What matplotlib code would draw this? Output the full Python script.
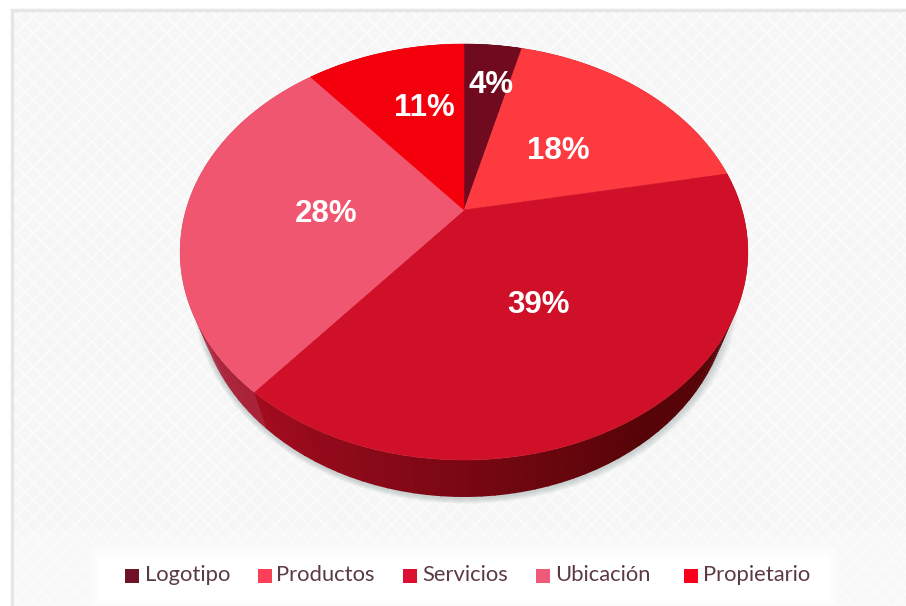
"""Pie chart with a tilted 3D look, drawn from the share values."""
import matplotlib
matplotlib.use("Agg")
import matplotlib.pyplot as plt
import numpy as np
from matplotlib.colors import to_rgb
from matplotlib.patches import Rectangle

categories = ["Logotipo", "Productos", "Servicios", "Ubicación", "Propietario"]
shares = [4, 18, 39, 28, 11]
share_labels = ["4%", "18%", "39%", "28%", "11%"]

top_colors = ["#700a1e", "#fc3a40", "#d01028", "#f0566f", "#f4000c"]
rim_start = ["#4a0410", "#8a1018", "#a30c20", "#a82238", "#a00008"]
rim_end = ["#4a0410", "#8a1018", "#560408", "#bd3048", "#a00008"]
legend_colors = ["#6f1226", "#fb3f58", "#dc0f32", "#ef5a78", "#f8001c"]

label_pos = [(491, 85), (558, 151), (539, 305), (326, 214), (424, 108)]
legend_square_x = [125, 258, 403, 536, 684]
legend_text_x = [145, 276, 422, 555, 703]

APEX = (464, 210)
K = 0.202  # perspective of the tilted disc
A = 278
B = 199.5
RIM_SCALE = 0.94
RIM_DROP = 37


def project(theta, r=1.0, scale=1.0, drop=0.0):
    """Map a point of the unit disc (clockwise from 12 o'clock) to pixels."""
    u = r * np.sin(theta)
    v = r * np.cos(theta)
    den = 1 + K * v
    return APEX[0] + scale * A * u / den, APEX[1] - B * v / den + drop


def mix(c1, c2, t):
    a, b = np.array(to_rgb(c1)), np.array(to_rgb(c2))
    return tuple(a + (b - a) * t)


fig = plt.figure(figsize=(9.06, 6.06), dpi=100, facecolor="white")
ax = fig.add_axes([0, 0, 1, 1])
ax.set_xlim(0, 906)
ax.set_ylim(606, 0)
ax.axis("off")

# Panel with its faint diagonal weave
plt.rcParams["hatch.linewidth"] = 1.4
ax.add_patch(Rectangle((12, 10), 900, 600, facecolor="#f6f6f6", edgecolor="#e6e6e6",
                       linewidth=2.5, zorder=0))
ax.add_patch(Rectangle((14, 12), 900, 600, facecolor="none", edgecolor="#fbfbfb",
                       linewidth=0, hatch="xx", zorder=0.1))
# The weave fades out towards the legend band
for y in range(530, 552, 3):
    ax.add_patch(Rectangle((14, y), 892, 606 - y, facecolor="#fbfbfb", edgecolor="none",
                           alpha=0.25, zorder=0.2))
for pad in range(8, 0, -2):
    ax.add_patch(Rectangle((97 - pad, 555 - pad), 733 + 2 * pad, 46 + 2 * pad,
                           facecolor="#ffffff", edgecolor="none", alpha=0.3, zorder=0.3))
ax.add_patch(Rectangle((97, 555), 733, 46, facecolor="#ffffff", edgecolor="none", zorder=0.3))

# Soft shadow under the disc
full = np.linspace(0, 2 * np.pi, 361)
for grow in range(1, 9):
    sx, sy = project(full, scale=RIM_SCALE, drop=RIM_DROP)
    cx, cy = np.mean([sx.min(), sx.max()]), np.mean([sy.min(), sy.max()])
    f = 1 + grow * 0.0032
    ax.fill(cx + (sx - cx) * f + grow * 0.2, cy + (sy - cy) * f + 1.5, color="#7f9090",
            alpha=0.05, linewidth=0, zorder=1)

# Rim, then the top of every slice
edges = np.concatenate([[0], np.cumsum(shares)]) / np.sum(shares) * 2 * np.pi
for i in range(len(shares)):
    steps = np.linspace(edges[i], edges[i + 1], 60)
    for j in range(len(steps) - 1):
        t = np.linspace(steps[j], steps[j + 1] + 0.005, 3)
        x1, y1 = project(t)
        x2, y2 = project(t[::-1], scale=RIM_SCALE, drop=RIM_DROP)
        along = (steps[j] - edges[i]) / (edges[i + 1] - edges[i])
        if categories[i] == "Servicios":
            # Darkest from the front of the disc round to the right
            along = min(1, (1 - along) * 1.9)
        ax.fill(np.r_[x1, x2], np.r_[y1, y2], color=mix(rim_start[i], rim_end[i], along),
                linewidth=0, zorder=2)

for i in range(len(shares)):
    t = np.linspace(edges[i], edges[i + 1], 120)
    x, y = project(t)
    ax.fill(np.r_[APEX[0], x], np.r_[APEX[1], y], color=top_colors[i], linewidth=0.4, zorder=3)

for text, (px, py) in zip(share_labels, label_pos):
    ax.text(px, py, text, color="white", fontsize=22.5, fontweight="bold",
            family="Liberation Sans", ha="center", va="center", zorder=4)

# Legend
for name, color, sq_x, txt_x in zip(categories, legend_colors, legend_square_x, legend_text_x):
    ax.add_patch(Rectangle((sq_x, 569), 14, 14, facecolor=color, edgecolor="none", zorder=4))
    ax.text(txt_x, 575, name, color="#5b3b42", fontsize=15.8, family="Lato",
            ha="left", va="center", zorder=4)

fig.savefig("out.png", dpi=100)
